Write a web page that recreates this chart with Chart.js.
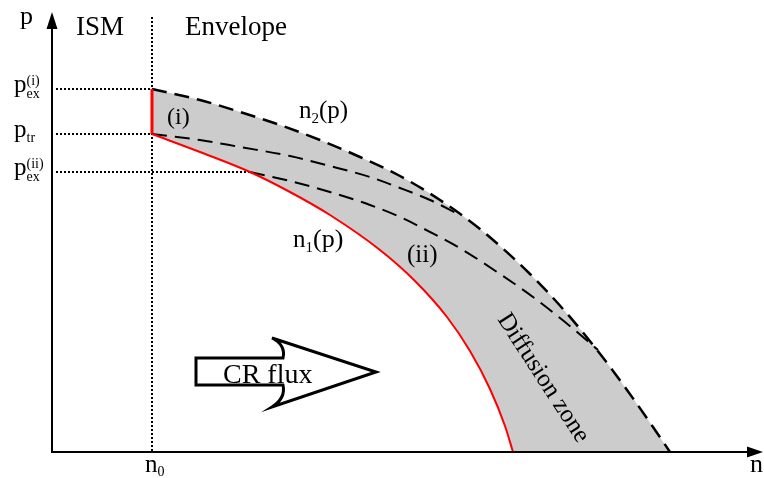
<!DOCTYPE html>
<html>
<head>
<meta charset="utf-8">
<title>Diffusion zone</title>
<script src="https://cdn.jsdelivr.net/npm/chart.js@4.4.1/dist/chart.umd.min.js"></script>
<style>
  html, body { margin: 0; padding: 0; background: #fff; }
  canvas { display: block; }
</style>
</head>
<body>
<canvas id="chart" width="764" height="478"></canvas>
<script>
// Levels marked on the axes
const n0 = 1.00;
const pExI = 3.63;   // p_ex^(i)
const pTr = 3.18;    // p_tr
const pExII = 2.80;  // p_ex^(ii)

// n1(p): inner edge of the diffusion zone (solid red)
const n1N = [1.00, 1.48, 1.98, 2.38, 2.78, 3.28, 3.63, 3.95, 4.18, 4.38, 4.53, 4.61];
const n1P = [3.18, 3.00, 2.80, 2.60, 2.37, 2.02, 1.71, 1.35, 1.01, 0.63, 0.26, 0.00];

// n2(p): outer edge of the diffusion zone (dashed)
const n2N = [1.00, 1.48, 1.88, 2.28, 2.68, 3.08, 3.48, 3.88, 4.28, 4.78, 5.11, 5.45, 5.75, 6.01, 6.18];
const n2P = [3.63, 3.52, 3.40, 3.27, 3.12, 2.95, 2.76, 2.52, 2.23, 1.78, 1.43, 1.02, 0.62, 0.25, 0.00];

// case (i): profile leaving from p_tr and joining n2
const caseIN = [1.00, 1.48, 1.88, 2.38, 2.78, 3.18, 3.48, 3.78, 4.08];
const caseIP = [3.18, 3.12, 3.05, 2.96, 2.86, 2.75, 2.64, 2.52, 2.37];

// case (ii): profile leaving from p_ex^(ii) and joining n2
const caseIIN = [1.98, 2.38, 2.78, 3.18, 3.48, 3.78, 4.11, 4.48, 4.81, 5.13, 5.46];
const caseIIP = [2.80, 2.71, 2.60, 2.47, 2.35, 2.20, 2.02, 1.78, 1.55, 1.30, 1.02];

const toPoints = (xv, yv) => xv.map((x, i) => ({ x, y: yv[i] }));

const SERIF = '"Liberation Serif", "Times New Roman", serif';

// Draws a run of text pieces: [text, size, baseline shift, advances?]
function textRun(ctx, x, y, pieces) {
  for (const [t, size, dy, adv = true] of pieces) {
    ctx.font = size + 'px ' + SERIF;
    ctx.fillText(t, x, y + dy);
    if (adv) x += ctx.measureText(t).width;
  }
  return x;
}

const diagram = {
  id: 'diagram',
  beforeDatasetsDraw(chart) {
    // dotted guides, drawn over the fills and under the curves
    const { ctx, scales: { x: xs, y: ys } } = chart;
    const X = v => xs.getPixelForValue(v);
    const Y = v => ys.getPixelForValue(v);
    ctx.save();
    ctx.strokeStyle = '#000';
    ctx.lineWidth = 2;
    ctx.setLineDash([2, 2]);
    ctx.beginPath();
    ctx.moveTo(X(n0), 17);
    ctx.lineTo(X(n0), Y(0));
    ctx.moveTo(X(0) + 4, Y(pExI));
    ctx.lineTo(X(n0), Y(pExI));
    ctx.moveTo(X(0) + 4, Y(pTr));
    ctx.lineTo(X(n0), Y(pTr));
    ctx.moveTo(X(0) + 4, Y(pExII));
    ctx.lineTo(X(caseIIN[0]), Y(pExII));
    ctx.stroke();
    ctx.restore();
  },
  afterDatasetsDraw(chart) {
    const { ctx, chartArea, scales: { x: xs, y: ys } } = chart;
    const X = v => xs.getPixelForValue(v);
    const Y = v => ys.getPixelForValue(v);
    const ox = X(0), oy = Y(0);
    ctx.save();

    // axes with arrow heads
    ctx.strokeStyle = '#000';
    ctx.fillStyle = '#000';
    ctx.lineWidth = 2;
    ctx.setLineDash([]);
    ctx.beginPath();
    ctx.moveTo(ox, 26);
    ctx.lineTo(ox, oy);
    ctx.lineTo(chartArea.right - 14, oy);
    ctx.stroke();
    ctx.beginPath();
    ctx.moveTo(ox, 12);
    ctx.lineTo(ox - 5.5, 29);
    ctx.lineTo(ox + 5.5, 29);
    ctx.closePath();
    ctx.fill();
    ctx.beginPath();
    ctx.moveTo(chartArea.right - 1, oy);
    ctx.lineTo(chartArea.right - 17, oy - 5.5);
    ctx.lineTo(chartArea.right - 17, oy + 5.5);
    ctx.closePath();
    ctx.fill();

    // "CR flux" block arrow
    ctx.lineWidth = 3;
    ctx.lineJoin = 'miter';
    ctx.fillStyle = '#fff';
    ctx.beginPath();
    ctx.moveTo(196, 358);
    ctx.lineTo(283, 358);
    ctx.quadraticCurveTo(286, 345, 272, 338);
    ctx.lineTo(376, 372);
    ctx.lineTo(272, 407);
    ctx.quadraticCurveTo(286, 398, 283, 385);
    ctx.lineTo(196, 385);
    ctx.closePath();
    ctx.fill();
    ctx.stroke();

    // labels
    ctx.fillStyle = '#000';
    ctx.textBaseline = 'alphabetic';
    ctx.textAlign = 'left';
    textRun(ctx, 20, 24, [['p', 26, 0]]);
    textRun(ctx, 750, 472, [['n', 26, 0]]);
    textRun(ctx, 76, 35, [['ISM', 27, 0]]);
    textRun(ctx, 185, 35, [['Envelope', 27, 0]]);
    textRun(ctx, 223, 383, [['CR flux', 28, 0]]);
    textRun(ctx, 167, 124, [['(i)', 24, 0]]);
    textRun(ctx, 407, 262, [['(ii)', 25, 0]]);
    textRun(ctx, 299, 118, [['n', 25, 0], ['2', 15, 5], ['(p)', 25, 0]]);
    textRun(ctx, 293, 247, [['n', 25, 0], ['1', 15, 5], ['(p)', 26, 0]]);

    // tick labels on the axes
    textRun(ctx, X(n0) - 7, 472, [['n', 25, 0], ['0', 14, 4]]);
    const yI = Y(pExI), yT = Y(pTr), yII = Y(pExII);
    textRun(ctx, 14, yI + 3, [['p', 25, 0], ['(i)', 14, -7, false], ['ex', 14, 6]]);
    textRun(ctx, 14, yT + 3, [['p', 25, 0], ['tr', 14, 5]]);
    textRun(ctx, 14, yII + 3, [['p', 25, 0], ['(ii)', 14, -7, false], ['ex', 14, 6]]);

    // rotated zone label
    ctx.translate(543, 378);
    ctx.rotate(57 * Math.PI / 180);
    ctx.textAlign = 'center';
    ctx.textBaseline = 'middle';
    ctx.font = '25px ' + SERIF;
    ctx.fillText('Diffusion zone', 0, 0);
    ctx.restore();
  }
};

new Chart(document.getElementById('chart'), {
  type: 'scatter',
  data: {
    datasets: [
      {
        label: 'n1(p)',
        data: toPoints(n1N, n1P),
        showLine: true,
        borderColor: '#ff0000',
        borderWidth: 2,
        cubicInterpolationMode: 'monotone',
        fill: 'origin',
        backgroundColor: '#ffffff'
      },
      {
        label: '(i)',
        data: toPoints(caseIN, caseIP),
        showLine: true,
        borderColor: '#000',
        borderWidth: 2,
        borderDash: [15, 8],
        cubicInterpolationMode: 'monotone',
        fill: false
      },
      {
        label: '(ii)',
        data: toPoints(caseIIN, caseIIP),
        showLine: true,
        borderColor: '#000',
        borderWidth: 2,
        borderDash: [15, 8],
        cubicInterpolationMode: 'monotone',
        fill: false
      },
      {
        label: 'n0 edge',
        data: [{ x: n0, y: pExI }, { x: n0, y: pTr }],
        showLine: true,
        borderColor: '#ff0000',
        borderWidth: 3,
        fill: false
      },
      {
        label: 'n2(p)',
        data: toPoints(n2N, n2P),
        showLine: true,
        borderColor: '#000',
        borderWidth: 2.5,
        borderDash: [15, 8],
        cubicInterpolationMode: 'monotone',
        fill: 'origin',
        backgroundColor: '#cccccc'
      }
    ]
  },
  options: {
    responsive: false,
    animation: false,
    events: [],
    layout: { padding: 0 },
    elements: { point: { radius: 0, hoverRadius: 0 } },
    plugins: {
      legend: { display: false },
      tooltip: { enabled: false },
      filler: { drawTime: 'beforeDatasetsDraw' }
    },
    scales: {
      x: { type: 'linear', display: false, min: -0.52, max: 7.12 },
      y: { type: 'linear', display: false, min: -0.26, max: 4.52 }
    }
  },
  plugins: [diagram]
});
</script>
</body>
</html>
